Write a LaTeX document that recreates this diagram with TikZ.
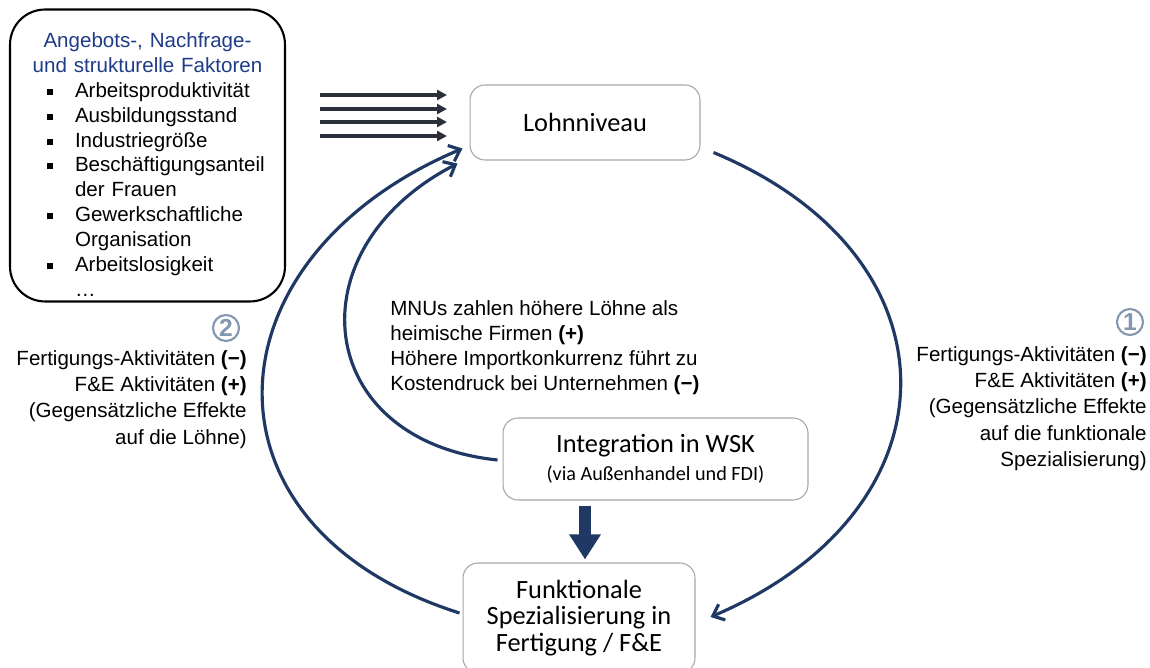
\documentclass[tikz,border=0pt]{standalone}
\usepackage{fontspec}
\setmainfont{Liberation Sans}
\newfontfamily\calibri{Carlito}
\usepackage{tikz}
\usetikzlibrary{positioning, arrows.meta}

\definecolor{navy}{HTML}{203864}
\definecolor{titleblue}{HTML}{1F3C88}
\definecolor{charcoal}{HTML}{2B303A}
\definecolor{circlegray}{HTML}{8497B0}
\definecolor{boxgray}{HTML}{A6A6A6}

\tikzstyle{factorbox} = [rectangle, rounded corners=0.7cm, minimum width=5.5cm, minimum height=5.84cm, draw=black, line width=1.2pt]
\tikzstyle{mainbox} = [rectangle, rounded corners=0.3cm, draw=boxgray, line width=0.6pt, text centered, align=center, inner sep=0pt, font=\calibri\fontsize{15}{15}\selectfont]
\tikzstyle{bodytext} = [inner sep=0pt, font=\fontsize{11.7}{14.2}\selectfont]
\tikzstyle{sidetext} = [inner sep=0pt, align=right, font=\fontsize{11.7}{15}\selectfont]
\tikzstyle{circnum} = [circle, draw=circlegray, line width=1.2pt, text=circlegray, minimum size=0.52cm, inner sep=0pt, font=\fontsize{14}{14}\selectfont\bfseries]
\tikzstyle{inputarrow} = [draw=charcoal, line width=2pt, -{Triangle[length=0.2cm,width=0.2cm]}]
\tikzstyle{cyclearrow} = [draw=navy, line width=1.8pt, -{Straight Barb[length=0.2cm,width=0.34cm]}]
\tikzstyle{bigarrow} = [draw=navy, line width=0.24cm, -{Triangle[length=0.5cm,width=0.6cm]}]

\newcommand{\sqbullet}{\rule[0.05cm]{0.12cm}{0.12cm}}
\newenvironment{factoritems}{\begin{list}{\sqbullet}{\setlength{\leftmargin}{1.1cm}\setlength{\labelwidth}{0.5cm}\setlength{\labelsep}{0.45cm}\setlength{\itemsep}{0pt}\setlength{\parsep}{0pt}\setlength{\topsep}{0pt}\setlength{\partopsep}{0pt}}}{\end{list}}

\begin{document}
\begin{tikzpicture}[x=0.02cm, y=-0.02cm]
        \useasboundingbox (0,0) rectangle (1150,668);

        % Factors
        \node (factors) [factorbox] at (147.5,155.5) {};
        \node (factortext) [bodytext, anchor=north, text width=5.1cm] at (147.5,32) {%
          {\centering\color{titleblue}Angebots-, Nachfrage-\\und strukturelle Faktoren\par}
          \begin{factoritems}
            \item Arbeitsproduktivität
            \item Ausbildungsstand
            \item Industriegröße
            \item Beschäftigungsanteil der Frauen
            \item Gewerkschaftliche Organisation
            \item Arbeitslosigkeit
            \item[] …
          \end{factoritems}};

        % Boxes
        \node (lohn) [mainbox, minimum width=4.6cm, minimum height=1.5cm] at (585,122.5) {Lohnniveau};
        \node (integ) [mainbox, minimum width=6.1cm, minimum height=1.64cm] at (655.5,459) {Integration in WSK\\[1pt]{\fontsize{11.5}{13}\selectfont (via Außenhandel und FDI)}};
        \node (funk) [mainbox, minimum width=4.64cm, minimum height=2.2cm] at (579,618) {Funktionale\\Spezialisierung in\\Fertigung / F\&E};

        % Texts
        \node (effects) [bodytext, anchor=north west, align=left] at (390,300) {MNUs zahlen höhere Löhne als\\heimische Firmen \textbf{(+)}\\Höhere Importkonkurrenz führt zu\\Kostendruck bei Unternehmen \textbf{(−)}};
        \node (num1) [circnum] at (1130,322) {1};
        \node (right) [sidetext, anchor=north east] at (1147,346) {Fertigungs-Aktivitäten \textbf{(−)}\\F\&E Aktivitäten \textbf{(+)}\\(Gegensätzliche Effekte\\auf die funktionale\\Spezialisierung)};
        \node (num2) [circnum] at (226,328) {2};
        \node (left) [sidetext, anchor=north east] at (247,350) {Fertigungs-Aktivitäten \textbf{(−)}\\F\&E Aktivitäten \textbf{(+)}\\(Gegensätzliche Effekte\\auf die Löhne)};

        % Input arrows
        \foreach \i/\y in {1/95, 2/109, 3/122, 4/136} {
          \coordinate (in\i) at (320,\y);
          \coordinate (out\i) at (447,\y);
          \draw [inputarrow] (in\i) -- (out\i);
        }

        % Cycle arrows
        \draw [cyclearrow] ([shift={(13,-8)}]lohn.south east) .. controls +(251,104) and +(251,-107) .. ([shift={(15,-1)}]funk.east);
        \draw [cyclearrow] ([shift={(-3,-5)}]funk.west) .. controls +(-269,-85) and +(-260,110) .. ([shift={(-7,-12)}]lohn.south west);
        \draw [cyclearrow] ([shift={(-5,1)}]integ.west) .. controls +(-184,-19) and +(-166,86) .. ([shift={(-12,3)}]lohn.south west);

        % Down arrow
        \coordinate (dcol) at (585,0);
        \draw [bigarrow, shorten <=0.1cm, shorten >=0.06cm] (integ.south -| dcol) -- (funk.north -| dcol);

\end{tikzpicture}
\end{document}
